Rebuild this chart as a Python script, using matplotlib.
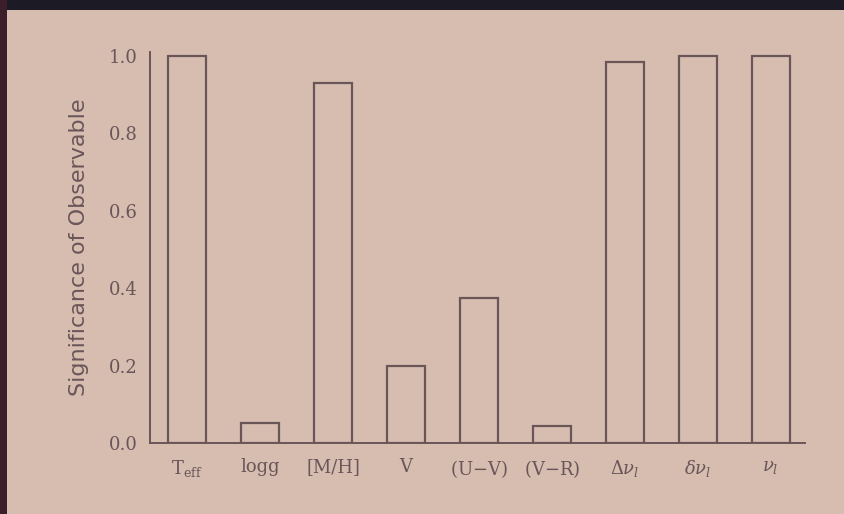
import matplotlib
matplotlib.use("Agg")
import matplotlib.pyplot as plt
from matplotlib.patches import Rectangle

categories = [r"$\mathrm{T_{eff}}$", "logg", "[M/H]", "V", "(U$-$V)", "(V$-$R)",
              r"$\Delta\nu_l$", r"$\delta\nu_l$", r"$\nu_l$"]
values = [1.0, 0.052, 0.93, 0.20, 0.375, 0.045, 0.985, 1.0, 1.0]
yticks = [0.0, 0.2, 0.4, 0.6, 0.8, 1.0]
ytick_labels = ["0.0", "0.2", "0.4", "0.6", "0.8", "1.0"]

plt.rcParams['font.family'] = ['DejaVu Serif']
plt.rcParams['mathtext.fontset'] = 'dejavuserif'

bg = '#d6bdb0'
ink = '#6a5659'

fig = plt.figure(figsize=(8.44, 5.14), dpi=100, facecolor=bg)
# photo frame edges
fig.patches.append(Rectangle((0, 1 - 10/514), 1, 10/514, transform=fig.transFigure,
                             facecolor='#1c1a24', edgecolor='none', zorder=0))
fig.patches.append(Rectangle((0, 0), 7/844, 1, transform=fig.transFigure,
                             facecolor='#3a1e2a', edgecolor='none', zorder=0))

ax = fig.add_axes([150/844, 1 - 443/514, (805 - 150)/844, (443 - 52)/514])
ax.set_facecolor(bg)
x = list(range(len(categories)))
ax.bar(x, values, width=0.52, facecolor='none', edgecolor=ink, linewidth=1.6)
ax.set_xlim(-0.51, 8.47)
ax.set_ylim(0, 1.01)
ax.set_yticks(yticks)
ax.set_yticklabels(ytick_labels, fontsize=13, color=ink)
ax.set_xticks(x)
ax.set_xticklabels(categories, fontsize=13, color=ink)
ax.tick_params(axis='y', length=0, pad=9)
ax.tick_params(axis='x', length=0, pad=11)
for s in ['top', 'right']:
    ax.spines[s].set_visible(False)
for s in ['left', 'bottom']:
    ax.spines[s].set_color(ink)
    ax.spines[s].set_linewidth(1.4)
ax.set_ylabel("Significance of Observable", fontsize=16, color=ink, labelpad=14,
              family='DejaVu Sans')

fig.savefig("out.png", dpi=100, facecolor=bg)
